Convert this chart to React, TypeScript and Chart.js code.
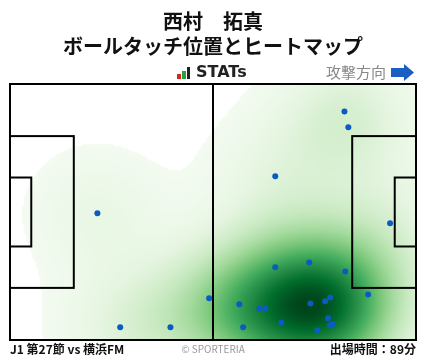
import React, { useEffect, useRef } from "react";
import { Chart, registerables } from "chart.js";

Chart.register(...registerables);

// Ball touch positions (pitch coords: x 0-105 in attack direction, y 0-68 from top)
const touchX = [22.6, 86.5, 87.5, 68.6, 28.5, 41.5, 51.5, 98.3, 68.6, 77.4, 86.7, 92.6, 59.3, 64.5, 66.0, 77.7, 81.5, 82.8, 70.2, 60.3, 82.3, 82.8, 83.4, 79.5];
const touchY = [34.3, 7.3, 11.5, 24.5, 64.6, 64.6, 56.9, 37.0, 48.7, 47.4, 49.8, 55.9, 58.5, 59.6, 59.6, 58.3, 57.7, 56.7, 63.4, 64.6, 62.2, 64.1, 63.8, 65.4];

const titleLines = ["西村　拓真", "ボールタッチ位置とヒートマップ"];
const brandText = "STATs";
const directionText = "攻撃方向";
const matchText = "J1 第27節 vs 横浜FM";
const creditText = "© SPORTERIA";
const minutesText = "出場時間：89分";

const PITCH_L = 105;
const PITCH_W = 68;

const GREENS = [
  [247, 252, 245],
  [229, 245, 224],
  [199, 233, 192],
  [161, 217, 155],
  [116, 196, 118],
  [65, 171, 93],
  [35, 139, 69],
  [0, 109, 44],
  [0, 68, 27],
];

function greens(v: number) {
  const t = Math.max(0, Math.min(1, v)) * (GREENS.length - 1);
  const i = Math.min(GREENS.length - 2, Math.floor(t));
  const f = t - i;
  const a = GREENS[i];
  const b = GREENS[i + 1];
  return [a[0] + (b[0] - a[0]) * f, a[1] + (b[1] - a[1]) * f, a[2] + (b[2] - a[2]) * f];
}

const FONT = '"Noto Sans CJK JP", "Noto Sans", sans-serif';

const heatmapPlugin = {
  id: "heatmap",
  beforeDatasetsDraw(chart: any) {
    const { ctx, chartArea, scales } = chart;
    const xs = scales.x;
    const ys = scales.y;
    const step = 2;
    const w = Math.ceil((chartArea.right - chartArea.left) / step);
    const h = Math.ceil((chartArea.bottom - chartArea.top) / step);
    const sx = 12;
    const sy = 11.5;
    const vals = new Float32Array(w * h);
    let max = 0;
    for (let j = 0; j < h; j++) {
      const dy = ys.getValueForPixel(chartArea.top + (j + 0.5) * step);
      for (let i = 0; i < w; i++) {
        const dx = xs.getValueForPixel(chartArea.left + (i + 0.5) * step);
        let s = 0;
        for (let k = 0; k < touchX.length; k++) {
          const ex = (dx - touchX[k]) / sx;
          const ey = (dy - touchY[k]) / sy;
          s += Math.exp(-0.5 * (ex * ex + ey * ey));
        }
        vals[j * w + i] = s;
        if (s > max) max = s;
      }
    }
    const off = document.createElement("canvas");
    off.width = w;
    off.height = h;
    const octx = off.getContext("2d")!;
    const img = octx.createImageData(w, h);
    for (let p = 0; p < w * h; p++) {
      const v = vals[p] / max;
      if (v < 0.025) {
        img.data[p * 4 + 3] = 0;
        continue;
      }
      const c = greens(v);
      img.data[p * 4] = c[0];
      img.data[p * 4 + 1] = c[1];
      img.data[p * 4 + 2] = c[2];
      img.data[p * 4 + 3] = 255;
    }
    octx.putImageData(img, 0, 0);
    ctx.save();
    ctx.imageSmoothingEnabled = true;
    ctx.drawImage(off, chartArea.left, chartArea.top, w * step, h * step);
    ctx.restore();

    // pitch lines
    const X = (v: number) => xs.getPixelForValue(v);
    const Y = (v: number) => ys.getPixelForValue(v);
    ctx.save();
    ctx.strokeStyle = "#000";
    ctx.lineWidth = 2;
    const rect = (x0: number, y0: number, x1: number, y1: number) => {
      ctx.strokeRect(X(x0), Y(y0), X(x1) - X(x0), Y(y1) - Y(y0));
    };
    rect(0, 0, PITCH_L, PITCH_W);
    ctx.beginPath();
    ctx.moveTo(X(PITCH_L / 2), Y(0));
    ctx.lineTo(X(PITCH_L / 2), Y(PITCH_W));
    ctx.stroke();
    const pbY0 = PITCH_W / 2 - 20.16;
    const pbY1 = PITCH_W / 2 + 20.16;
    const gaY0 = PITCH_W / 2 - 9.16;
    const gaY1 = PITCH_W / 2 + 9.16;
    rect(0, pbY0, 16.5, pbY1);
    rect(0, gaY0, 5.5, gaY1);
    rect(PITCH_L - 16.5, pbY0, PITCH_L, pbY1);
    rect(PITCH_L - 5.5, gaY0, PITCH_L, gaY1);
    ctx.restore();
  },
};

const textPlugin = {
  id: "texts",
  afterDraw(chart: any) {
    const { ctx, chartArea } = chart;
    const cx = (chartArea.left + chartArea.right) / 2;
    ctx.save();
    ctx.textBaseline = "middle";
    ctx.fillStyle = "#111";
    ctx.textAlign = "center";
    ctx.font = `bold 20px ${FONT}`;
    ctx.fillText(titleLines[0], cx, 21);
    ctx.fillText(titleLines[1], cx, 46);

    // STATs logo
    ctx.fillStyle = "#d9261c";
    ctx.fillRect(177, 74, 4, 5);
    ctx.fillStyle = "#2e9e3e";
    ctx.fillRect(182, 71, 4, 8);
    ctx.fillStyle = "#222";
    ctx.fillRect(187, 67, 3, 12);
    ctx.textAlign = "left";
    ctx.font = `bold 16px "DejaVu Sans", sans-serif`;
    ctx.fillStyle = "#222";
    ctx.fillText(brandText, 196, 73);

    // attack direction
    ctx.font = `15px ${FONT}`;
    ctx.fillStyle = "#888";
    ctx.textAlign = "right";
    ctx.fillText(directionText, 386, 72);
    ctx.fillStyle = "#1a5fc4";
    ctx.beginPath();
    ctx.moveTo(391, 68);
    ctx.lineTo(404, 68);
    ctx.lineTo(404, 64);
    ctx.lineTo(414, 72.5);
    ctx.lineTo(404, 81);
    ctx.lineTo(404, 77);
    ctx.lineTo(391, 77);
    ctx.closePath();
    ctx.fill();

    // footer
    ctx.fillStyle = "#111";
    ctx.textAlign = "left";
    ctx.font = `bold 12px ${FONT}`;
    ctx.fillText(matchText, chartArea.left, 349);
    ctx.textAlign = "right";
    ctx.font = `bold 12px ${FONT}`;
    ctx.fillText(minutesText, chartArea.right, 349);
    ctx.textAlign = "center";
    ctx.font = `10px ${FONT}`;
    ctx.fillStyle = "#999";
    ctx.fillText(creditText, 213, 349);
    ctx.restore();
  },
};

export default function App() {
  const ref = useRef<HTMLCanvasElement | null>(null);
  useEffect(() => {
    document.body.style.margin = "0";
    const canvas = ref.current!;
    const chart = new Chart(canvas, {
      type: "scatter",
      data: {
        datasets: [
          {
            data: touchX.map((x, i) => ({ x, y: touchY[i] })),
            backgroundColor: "#0a5cc2",
            borderColor: "#0a5cc2",
            pointRadius: 3,
            pointHoverRadius: 3,
            borderWidth: 0,
            clip: false as any,
          },
        ],
      },
      options: {
        responsive: false,
        animation: false,
        layout: { padding: { left: 10, right: 12, top: 84, bottom: 19 } },
        scales: {
          x: { type: "linear", min: 0, max: PITCH_L, display: false },
          y: { type: "linear", min: 0, max: PITCH_W, reverse: true, display: false },
        },
        plugins: {
          legend: { display: false },
          tooltip: { enabled: false },
          title: { display: false },
        },
        events: [],
      },
      plugins: [heatmapPlugin, textPlugin],
    });
    return () => chart.destroy();
  }, []);
  return (
    <div style={{ width: 428, height: 359, background: "#fff" }}>
      <canvas ref={ref} width={428} height={359} style={{ display: "block" }} />
    </div>
  );
}
